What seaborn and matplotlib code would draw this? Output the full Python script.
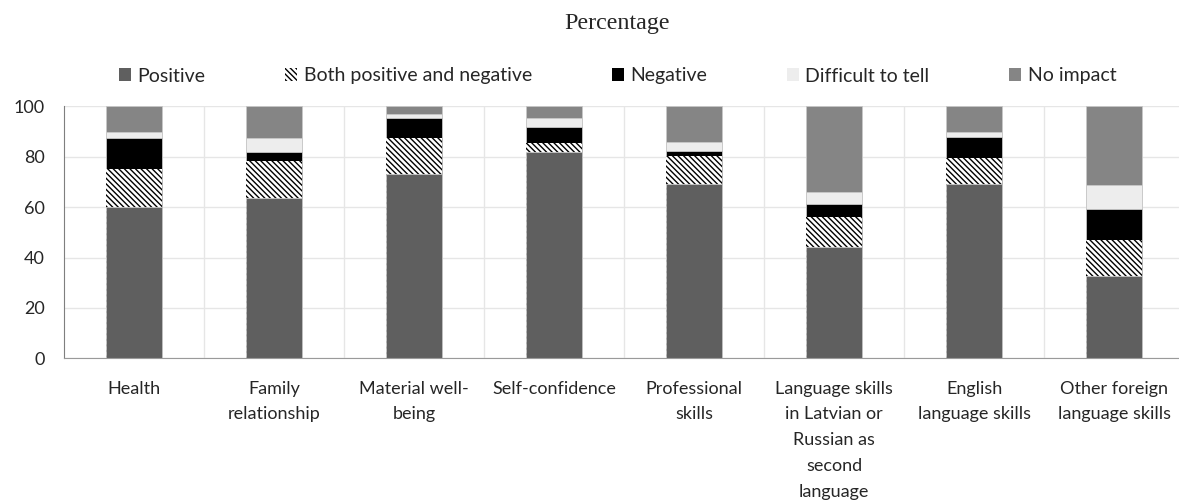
import numpy as np
import matplotlib
matplotlib.use("Agg")
import matplotlib.pyplot as plt
from matplotlib.patches import Patch
from matplotlib.ticker import FixedLocator
import seaborn as sns

categories = ["Health", "Family\nrelationship", "Material well-\nbeing", "Self-confidence",
              "Professional\nskills",
              "Language skills\nin Latvian or\nRussian as\nsecond\nlanguage",
              "English\nlanguage skills", "Other foreign\nlanguage skills"]

positive = [60.2, 63.5, 73.1, 82.0, 69.2, 44.0, 69.0, 32.8]
both = [15.0, 14.9, 14.4, 3.3, 11.2, 12.1, 10.4, 14.1]
negative = [12.1, 3.5, 8.0, 6.6, 2.0, 5.3, 8.3, 12.5]
difficult = [2.4, 5.5, 1.3, 3.3, 3.4, 4.7, 2.2, 9.3]
no_impact = [10.3, 12.6, 3.2, 4.8, 14.2, 33.9, 10.1, 31.3]

series_names = ["Positive", "Both positive and negative", "Negative", "Difficult to tell", "No impact"]
series = [positive, both, negative, difficult, no_impact]
colors = ["#5f5f5f", "white", "black", "#ededed", "#858585"]
hatches = [None, "\\" * 6, None, None, None]

sns.set_style("white")
plt.rcParams["font.family"] = ["Lato", "DejaVu Sans"]
plt.rcParams["hatch.linewidth"] = 1.0

fig = plt.figure(figsize=(11.79, 5.04), dpi=100)
ax = fig.add_axes([64 / 1179, 1 - 358.3 / 504, 1120 / 1179, (358.3 - 106.3) / 504])

# stacked bars: draw cumulative totals from the top down
cum = np.cumsum(np.array(series), axis=0)
for i in range(len(series) - 1, -1, -1):
    if hatches[i]:
        sns.barplot(x=categories, y=cum[i], ax=ax, color=colors[i], width=0.4,
                    edgecolor="black", linewidth=0, hatch=hatches[i], saturation=1)
    else:
        sns.barplot(x=categories, y=cum[i], ax=ax, color=colors[i], width=0.4,
                    edgecolor="#c8c8c8", linewidth=0.6, saturation=1)

ax.set_ylim(0, 100)
ax.set_xlim(-0.5, 7.5)
ax.set_yticks(range(0, 101, 20))
ax.set_axisbelow(True)
ax.grid(axis="y", color="#e6e6e6", linewidth=1)
ax.xaxis.set_minor_locator(FixedLocator(np.arange(0.5, 8, 1)))
ax.grid(axis="x", which="minor", color="#e6e6e6", linewidth=1)
ax.tick_params(axis="both", which="both", length=0, labelsize=13)
ax.tick_params(axis="x", pad=16)
ax.tick_params(axis="y", pad=14)
for lbl in ax.get_xticklabels():
    lbl.set_linespacing(1.76)
for s in ["top", "right"]:
    ax.spines[s].set_visible(False)
ax.spines["left"].set_color("#7f7f7f")
ax.spines["bottom"].set_color("#9a9a9a")
ax.set_xlabel("")
ax.set_ylabel("")

handles = [Patch(facecolor=colors[i], edgecolor="black" if hatches[i] else colors[i],
                 hatch=hatches[i], linewidth=0) for i in range(len(series))]
fig.legend(handles, series_names, loc="center", bbox_to_anchor=(0.524, 1 - 76 / 504),
           ncol=5, frameon=False, fontsize=14, handlelength=0.6, handleheight=0.6,
           handletextpad=0.35, columnspacing=4.1)

fig.text(617 / 1179, 1 - 23 / 504, "Percentage", ha="center", va="center",
         family="Liberation Serif", fontsize=17.3)

fig.savefig("out.png", dpi=100)
